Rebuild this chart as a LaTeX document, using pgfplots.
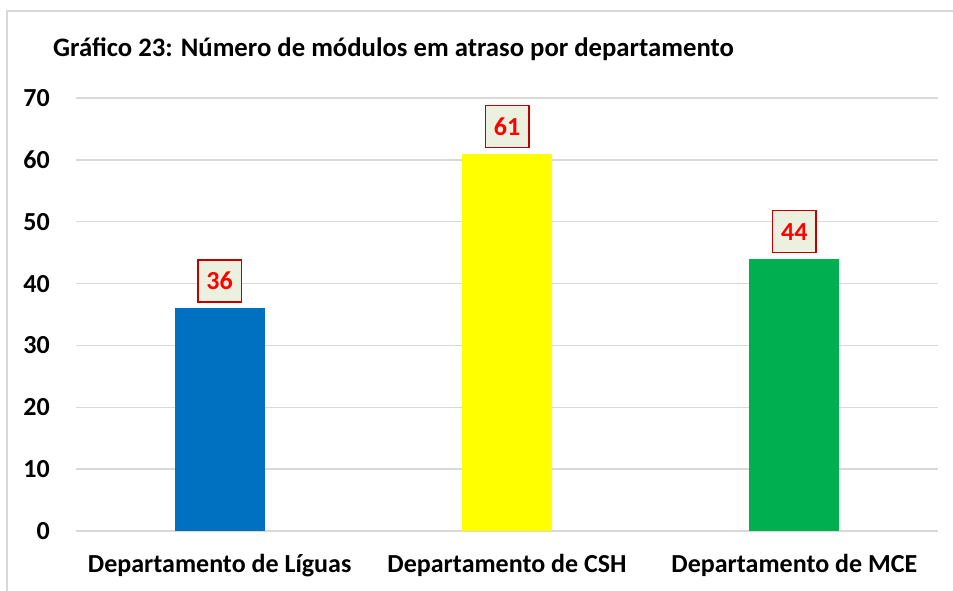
\documentclass[border=0pt]{standalone}
\usepackage{pgfplots}
\pgfplotsset{compat=1.18}
\usepackage{fontspec}
\setmainfont{Carlito}
\definecolor{gridgray}{HTML}{D9D9D9}
\definecolor{barblue}{HTML}{0070C0}
\definecolor{baryellow}{HTML}{FFFF00}
\definecolor{bargreen}{HTML}{00B050}
\definecolor{lblfill}{HTML}{EBF1DE}
\definecolor{lbldraw}{HTML}{C00000}
\definecolor{lbltext}{HTML}{FF0000}
\begin{document}
\begin{tikzpicture}[x=1pt,y=1pt]
\path[use as bounding box] (0,0) rectangle (953,590);
\draw[gridgray, line width=1.5pt] (7,-2) -- (7,579) -- (955,579);
\node[anchor=base west, inner sep=0pt, font=\fontsize{26.7}{30}\selectfont\bfseries] at (53,533)
  {Gráfico 23: Número de módulos em atraso por departamento};
\begin{axis}[
  at={(76pt,59pt)}, anchor=south west,
  scale only axis, width=862pt, height=433pt,
  xmin=-0.5, xmax=2.5, ymin=0, ymax=70,
  ytick={0,10,...,70},
  xtick={0,1,2},
  xticklabels={Departamento de Líguas, Departamento de CSH, Departamento de MCE},
  axis line style={draw=none},
  major tick length=0pt,
  ymajorgrids, grid style={gridgray, line width=1.5pt},
  /pgf/number format/assume math mode=true,
  ticklabel style={font=\fontsize{26}{30}\selectfont\bfseries, inner sep=0pt},
  yticklabel style={anchor=east, xshift=-26pt},
  xticklabel style={anchor=north, yshift=-23pt},
  ybar, bar width=90pt,
  every axis plot/.append style={draw=none, bar shift=0pt},
  nodes near coords,
  nodes near coords style={anchor=south, yshift=5.5pt, fill=lblfill, draw=lbldraw, line width=1.5pt,
    text=lbltext, font=\fontsize{26}{30}\selectfont\bfseries, minimum width=43.5pt, minimum height=42pt, inner sep=0pt},
  clip=false,
]
\addplot[fill=barblue] coordinates {(0,36)};
\addplot[fill=baryellow] coordinates {(1,61)};
\addplot[fill=bargreen] coordinates {(2,44)};
\end{axis}
\end{tikzpicture}
\end{document}
